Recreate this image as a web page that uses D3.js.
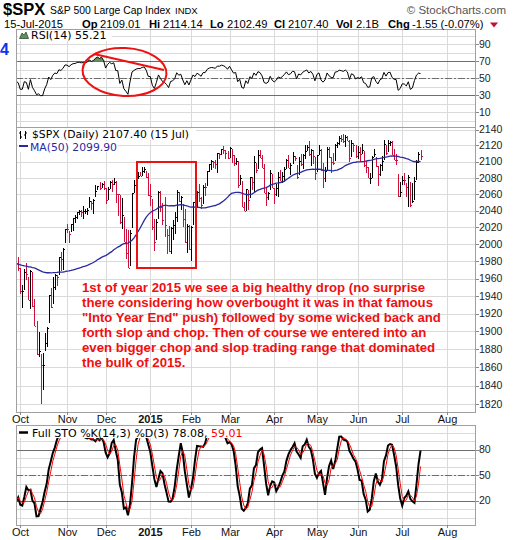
<!DOCTYPE html>
<html><head><meta charset="utf-8">
<script src="https://cdn.jsdelivr.net/npm/d3@7"></script>
<style>body{margin:0;background:#fff}svg{display:block}</style>
</head><body><svg id="c" width="520" height="540"></svg>
<script>
// ---- DATA (daily S&P 500, 1 Jul 2014 .. 15 Jul 2015; Jul-Sep 2014 is indicator warm-up) ----
const monthLabels = ["Jul","Aug","Sep","Oct","Nov","Dec","2015","Feb","Mar","Apr","May","Jun","Jul","Aug"];
const monthTradingDays = [22,21,21,23,19,22,20,19,22,21,20,22,22];
const firstVisible = 62; // 29 Sep 2014
const closes = [
1973.32,1974.62,1985.44,1977.65,1963.71,1972.83,1964.68,1967.57,1977.10,1973.28,1981.57,1958.12,1978.22,1973.63,1983.53,1987.01,1987.98,1978.34,1978.91,1969.95,1970.07,1930.67,
1925.15,1938.99,1920.21,1920.24,1909.57,1931.59,1936.92,1933.75,1946.72,1955.18,1955.06,1971.74,1981.60,1986.51,1992.37,1988.40,1997.92,2000.02,2000.12,1996.74,2003.37,
2002.28,2000.72,1997.65,2007.71,2001.54,1988.44,1995.69,1997.45,1985.54,1984.13,1998.98,2001.57,2011.36,2010.40,1994.29,1982.77,1998.30,1965.99,1982.85,1977.80,1972.29,
1946.16,1946.17,1967.90,1964.82,1935.10,1968.89,1928.21,1906.13,1874.74,1877.70,1862.49,1862.76,1886.76,1904.01,1941.28,1927.11,1950.82,1964.58,1961.63,1985.05,1982.30,1994.65,2018.05,
2017.81,2012.10,2023.57,2031.21,2031.92,2038.26,2039.68,2038.25,2039.33,2039.82,2041.32,2051.80,2048.72,2052.75,2063.50,2069.41,2067.03,2072.83,2067.56,
2053.44,2066.55,2074.33,2071.92,2075.37,2060.31,2059.82,2026.14,2035.33,2002.33,1989.63,1972.74,2012.89,2061.23,2070.65,2078.54,2082.17,2081.88,2088.77,2090.57,2080.35,2058.90,
2058.20,2020.58,2002.61,2025.90,2062.14,2044.81,2028.26,2023.03,2011.27,1992.67,2019.42,2022.55,2032.12,2063.15,2051.82,2057.09,2029.55,2002.16,2021.25,1994.99,
2020.85,2050.03,2041.51,2062.52,2055.47,2046.74,2068.59,2068.53,2088.48,2096.99,2100.34,2099.68,2097.45,2110.30,2109.66,2115.48,2113.86,2110.74,2104.50,
2117.39,2107.78,2098.53,2101.04,2071.26,2079.43,2044.16,2040.24,2065.95,2053.40,2081.19,2074.28,2099.50,2089.27,2108.10,2104.42,2091.50,2061.05,2056.15,2061.02,2086.24,2067.89,
2059.69,2066.96,2080.62,2076.33,2081.90,2091.18,2102.06,2092.43,2095.84,2106.63,2104.99,2081.18,2100.40,2097.29,2107.96,2112.93,2117.69,2108.92,2114.76,2106.85,2085.51,
2108.29,2114.49,2089.46,2080.15,2088.00,2116.10,2105.33,2099.12,2098.48,2121.10,2122.73,2129.20,2127.83,2125.85,2130.82,2126.06,2104.20,2123.48,2120.79,2107.39,
2111.73,2109.60,2114.07,2095.84,2092.83,2079.28,2080.15,2105.20,2108.86,2094.11,2084.43,2096.29,2100.44,2121.24,2109.99,2122.85,2124.20,2108.58,2102.31,2101.49,2057.64,2063.11,
2077.42,2076.78,2068.76,2081.34,2046.68,2051.31,2076.62,2099.60,2108.95,2107.40];
const highs = [
1978.58,1976.67,1985.59,1982.90,1976.39,1974.15,1969.84,1968.67,1979.85,1982.52,1983.94,1979.91,1979.91,1976.93,1986.24,1989.23,1991.39,1984.60,1981.52,1984.85,1980.20,1965.14,
1937.35,1942.92,1936.34,1927.91,1928.89,1932.38,1944.90,1939.65,1948.41,1955.23,1964.04,1971.99,1982.57,1988.57,1994.76,1993.54,2001.95,2005.04,2002.14,1998.55,2003.38,
2006.12,2009.28,2011.17,2007.71,2007.17,2001.01,1996.66,1997.65,1996.66,1987.18,2002.33,2010.74,2012.34,2019.26,2009.08,1995.41,1999.79,1997.32,1986.37,1978.60,1985.17,
1971.99,1952.32,1971.19,1977.84,1962.36,1970.36,1967.68,1936.98,1912.09,1898.71,1874.18,1876.01,1898.11,1905.03,1941.28,1949.31,1961.95,1965.27,1964.64,1985.17,1991.40,1995.23,2018.19,
2024.46,2015.98,2023.77,2031.61,2034.26,2038.70,2041.28,2040.33,2046.18,2041.88,2043.07,2056.08,2052.14,2054.27,2071.46,2070.17,2074.21,2073.40,2075.76,
2067.56,2068.22,2076.28,2077.34,2079.47,2076.24,2060.60,2058.90,2055.53,2032.13,2018.69,2016.89,2016.75,2061.23,2077.85,2078.76,2086.73,2087.62,2092.70,2093.55,2088.49,2085.58,
2072.36,2054.44,2030.25,2029.61,2064.08,2064.43,2049.30,2056.93,2018.40,2021.35,2020.46,2028.94,2038.29,2064.62,2062.98,2057.62,2047.86,2042.49,2024.64,2023.32,
2021.66,2050.30,2054.74,2063.55,2072.40,2056.16,2070.86,2073.48,2088.53,2097.03,2101.30,2100.23,2102.13,2110.61,2110.05,2115.76,2119.59,2113.91,2112.74,
2117.52,2115.76,2107.72,2104.25,2100.91,2083.49,2076.19,2050.08,2066.41,2064.56,2081.41,2080.59,2106.85,2098.69,2113.92,2114.86,2107.63,2097.43,2067.15,2062.83,2088.97,2084.05,
2067.89,2072.17,2086.99,2089.81,2086.69,2093.31,2102.61,2107.65,2098.62,2111.91,2107.04,2095.11,2105.59,2109.64,2109.48,2120.49,2120.92,2125.92,2116.04,2113.80,2105.13,
2108.41,2120.95,2115.24,2098.22,2092.90,2117.66,2117.69,2105.06,2110.19,2121.45,2123.89,2131.78,2133.02,2134.72,2133.15,2132.25,2126.22,2126.81,2122.52,2120.66,
2119.15,2117.59,2121.92,2112.89,2100.99,2093.01,2085.67,2107.03,2115.02,2105.64,2094.10,2097.40,2106.79,2126.65,2121.01,2126.59,2125.55,2125.10,2116.03,2108.92,2084.72,2074.28,
2082.78,2085.42,2074.02,2083.74,2074.24,2074.16,2081.31,2101.48,2111.99,2114.14];
const lows = [
1962.29,1972.58,1975.88,1975.67,1959.46,1965.08,1952.86,1959.63,1969.95,1965.34,1975.67,1955.59,1960.82,1965.77,1975.65,1982.44,1985.79,1974.37,1967.31,1969.95,1965.03,1930.67,
1916.37,1921.20,1913.77,1911.45,1904.78,1909.01,1933.43,1928.29,1935.60,1947.41,1941.50,1957.10,1972.72,1974.19,1986.33,1984.76,1991.74,1998.59,1996.20,1990.52,1994.65,
1994.85,1998.14,1992.54,1990.10,1995.60,1984.61,1982.99,1985.93,1980.26,1978.48,1979.07,1993.29,2003.39,2006.59,1991.01,1982.77,1978.63,1965.99,1968.04,1964.14,1968.96,
1941.72,1926.03,1947.28,1958.43,1935.10,1925.25,1927.56,1906.05,1874.14,1871.79,1820.66,1835.02,1877.84,1882.30,1909.38,1926.83,1931.19,1946.27,1951.37,1964.14,1969.04,1970.32,2001.85,
2013.68,2001.01,2014.42,2015.86,2025.07,2030.17,2035.28,2031.95,2030.44,2035.72,2034.46,2043.08,2040.37,2035.69,2056.75,2065.06,2064.75,2066.94,2065.06,
2047.56,2053.44,2066.65,2062.34,2070.81,2049.57,2034.17,2024.26,2018.07,2002.33,1982.26,1972.56,1974.13,2018.93,2061.03,2069.99,2078.46,2081.86,2082.30,2085.75,2079.53,2057.94,
2046.04,2017.34,1992.44,2005.55,2030.61,2038.33,2022.58,2008.25,1988.44,1991.47,1988.12,2004.49,2012.04,2026.38,2050.54,2040.97,2019.91,2001.49,1989.18,1993.38,
1980.90,2022.71,2036.72,2043.45,2049.97,2041.88,2048.62,2057.99,2069.98,2086.70,2089.80,2092.15,2090.79,2085.44,2103.00,2107.63,2109.89,2103.76,2103.75,
2104.50,2098.26,2094.49,2095.22,2067.27,2071.28,2044.16,2039.69,2040.24,2041.17,2055.20,2065.08,2061.23,2085.56,2090.32,2104.42,2091.50,2061.05,2045.50,2052.96,2064.98,2067.04,
2048.38,2057.32,2056.52,2076.10,2073.30,2074.29,2091.05,2092.33,2083.24,2097.03,2100.30,2078.52,2083.98,2094.38,2091.05,2103.19,2112.69,2107.04,2094.89,2097.41,2077.59,
2087.62,2108.29,2088.46,2067.93,2074.99,2088.24,2104.58,2085.57,2096.04,2100.43,2116.81,2120.01,2124.50,2122.59,2117.66,2126.06,2099.18,2105.13,2112.18,2104.89,
2102.54,2099.14,2109.61,2093.23,2085.67,2079.11,2072.14,2079.73,2106.13,2093.11,2070.29,2082.10,2088.86,2101.43,2108.58,2111.85,2119.22,2108.58,2101.78,2095.38,2056.32,2056.32,
2071.46,2071.09,2056.32,2044.02,2044.49,2049.34,2052.66,2077.78,2098.18,2102.49];
const priceTicks = [1820,1840,1860,1880,1900,1920,1940,1960,1980,2000,2020,2040,2060,2080,2100,2120,2140];
const rsiTicks = [90,70,50,30,10];
const stoTicks = [80,50,20];
const headerItems = [["15-Jul-2015",false],["Op",true],["2109.01",false],["Hi",true],["2114.14",false],["Lo",true],["2102.49",false],
  ["Cl",true],["2107.40",false],["Vol",true],["2.1B",false],["Chg",true],["-1.55 (-0.07%)",false]];
const noteLines = [
"1st of year 2015 we see a big healthy drop (no surprise",
"there considering how overbought it was in that famous",
"\"Into Year End\" push) followed by some wicked back and",
"forth slop and chop. Then of course we entered into an",
"even bigger chop and slop trading range that dominated",
"the bulk of 2015."];

// ---- INDICATORS ----
const N = closes.length;
const ma50 = closes.map((c,i)=> i<49 ? null : d3.mean(closes.slice(i-49,i+1)));
function rsiCalc(c,n){const out=new Array(c.length).fill(null);let g=0,l=0;
  for(let i=1;i<=n;i++){const d=c[i]-c[i-1]; if(d>0)g+=d; else l-=d;} g/=n;l/=n; out[n]=100-100/(1+g/l);
  for(let i=n+1;i<c.length;i++){const d=c[i]-c[i-1]; g=(g*(n-1)+Math.max(d,0))/n; l=(l*(n-1)+Math.max(-d,0))/n; out[i]=100-100/(1+g/l);} return out;}
const rsi = rsiCalc(closes,14);
const fastK = closes.map((c,i)=>{ if(i<13) return null; const hh=d3.max(highs.slice(i-13,i+1)), ll=d3.min(lows.slice(i-13,i+1)); return 100*(c-ll)/(hh-ll);});
const sma=(a,n)=>a.map((v,i)=>{ if(i<n-1) return null; const s=a.slice(i-n+1,i+1); return s.some(x=>x==null)?null:d3.mean(s);});
const fullK = sma(fastK,3), fullD = sma(fullK,3);

// month start indices
let monthStarts = []; let acc=0;
monthLabels.forEach((m,k)=>{ monthStarts.push({label:m, i:acc}); acc += (monthTradingDays[k]||0); });
monthStarts = monthStarts.filter(m=> m.i >= firstVisible);

// ---- LAYOUT ----
const L=16, R=476;
const P = {rsi:{t:29,b:127}, price:{t:127,b:412}, sto:{t:425,b:525}};
const svg = d3.select("#c");
const FA = "'Liberation Sans', Arial, sans-serif", FV = "'DejaVu Sans', Verdana, sans-serif";
const RED = "#d0103a";
const xs = d3.scaleLinear().domain([firstVisible, firstVisible+226.3]).range([16.2, 476]);
const yR = d3.scaleLinear().domain([50-49/0.85, 50+49/0.85]).range([P.rsi.b, P.rsi.t]);
const yS = d3.scaleLinear().domain([50-50/0.85, 50+50/0.85]).range([P.sto.b, P.sto.t]);
const yP = d3.scaleLog().domain([1811.7, 2143.2]).range([P.price.b, P.price.t]);
const vis = d3.range(firstVisible, N);
const xi = i => Math.round(xs(i));

const defs = svg.append("defs");
Object.entries(P).forEach(([k,p])=> defs.append("clipPath").attr("id","clip-"+k).append("rect").attr("x",L).attr("y",p.t).attr("width",R-L).attr("height",p.b-p.t));

function grid(p, yScale, ticks){
  const g = svg.append("g").attr("shape-rendering","crispEdges");
  ticks.forEach(v=>{ const y=Math.round(yScale(v))+0.5; if(y<p.t||y>p.b) return;
    g.append("line").attr("x1",L).attr("x2",R).attr("y1",y).attr("y2",y).attr("stroke","#dadada"); });
  monthStarts.forEach(m=>{ const x=xi(m.i)+0.5; if(x<L||x>R) return;
    g.append("line").attr("x1",x).attr("x2",x).attr("y1",p.t).attr("y2",p.b).attr("stroke","#dadada"); });
}
grid(P.rsi, yR, d3.range(0,110,10));
grid(P.price, yP, priceTicks);
grid(P.sto, yS, d3.range(0,110,10));

function refLines(p, yScale, solid, dashed){
  const g = svg.append("g").attr("shape-rendering","crispEdges");
  solid.forEach(v=>{ const y=Math.round(yScale(v))+0.5; g.append("line").attr("x1",L).attr("x2",R).attr("y1",y).attr("y2",y).attr("stroke","#6e6e6e"); });
  const y=Math.round(yScale(dashed))+0.5;
  g.append("line").attr("x1",L).attr("x2",R).attr("y1",y).attr("y2",y).attr("stroke","#6e6e6e").attr("stroke-dasharray","7,2,2,2");
}
refLines(P.rsi, yR, [70,30], 50);
refLines(P.sto, yS, [80,20], 50);

// ---- RSI ----
const gR = svg.append("g").attr("clip-path","url(#clip-rsi)");
gR.append("path").datum(vis).attr("fill","#5f8f5f").attr("stroke","none")
  .attr("d", d3.area().x(i=>xs(i)).y0(yR(70)).y1(i=>yR(Math.max(rsi[i],70))));
gR.append("path").datum(vis).attr("fill","none").attr("stroke","#000").attr("stroke-width",1)
  .attr("d", d3.line().x(i=>xs(i)).y(i=>yR(rsi[i])));

// ---- PRICE BARS ----
const gP = svg.append("g").attr("clip-path","url(#clip-price)");
const gB = gP.append("g").attr("shape-rendering","crispEdges");
vis.forEach(i=>{
  const col = closes[i] < closes[i-1] ? RED : "#000";
  const x = xi(i), yh = Math.round(yP(highs[i])), yl = Math.round(yP(lows[i])), yc = Math.round(yP(closes[i]));
  gB.append("rect").attr("x",x).attr("y",yh).attr("width",1).attr("height",Math.max(1,yl-yh)).attr("fill",col);
  gB.append("rect").attr("x",x+1).attr("y",yc).attr("width",1).attr("height",1).attr("fill",col);
});
gP.append("path").datum(vis).attr("fill","none").attr("stroke","#2a2aa0").attr("stroke-width",1.3)
  .attr("d", d3.line().x(i=>xs(i)).y(i=>yP(ma50[i])));

// ---- STO ----
const gS = svg.append("g").attr("clip-path","url(#clip-sto)");
gS.append("path").datum(vis).attr("fill","none").attr("stroke","#000").attr("stroke-width",2)
  .attr("d", d3.line().x(i=>xs(i)).y(i=>yS(fullK[i])));
gS.append("path").datum(vis).attr("fill","none").attr("stroke","#ff0000").attr("stroke-width",1)
  .attr("d", d3.line().x(i=>xs(i)).y(i=>yS(fullD[i])));

// ---- borders & axes ----
const gA = svg.append("g").attr("shape-rendering","crispEdges");
Object.values(P).forEach(p=> gA.append("rect").attr("x",L+0.5).attr("y",p.t+0.5).attr("width",R-L-1).attr("height",p.b-p.t).attr("fill","none").attr("stroke","#a0a0a0"));
function rightLabels(yScale, ticks){
  ticks.forEach(v=>{ const y=yScale(v);
    gA.append("line").attr("x1",R).attr("x2",R+3).attr("y1",Math.round(y)+0.5).attr("y2",Math.round(y)+0.5).attr("stroke","#888");
    svg.append("text").attr("x",R+3).attr("y",y).attr("dy","0.36em").attr("font-family",FA).attr("font-size",10.5).attr("fill","#222").text(v);
  });
}
rightLabels(yR, rsiTicks); rightLabels(yP, priceTicks); rightLabels(yS, stoTicks);
function bottomLabels(p, base){
  monthStarts.forEach(m=>{ const x=xi(m.i)+0.5; if(x<L||x>R) return;
    gA.append("line").attr("x1",x).attr("x2",x).attr("y1",p.b).attr("y2",p.b+3).attr("stroke","#888");
    svg.append("text").attr("x",x).attr("y",base).attr("text-anchor","middle").attr("font-family",FA).attr("font-size",11)
      .attr("font-weight", m.label==="2015"?"bold":"normal").attr("fill","#111").text(m.label);
  });
}
bottomLabels(P.price, 422.5); bottomLabels(P.sto, 536);

// ---- legends ----
function legendBg(x,y,w,h){ svg.append("rect").attr("x",x).attr("y",y).attr("width",w).attr("height",h).attr("fill","#fff"); }
legendBg(18,30,94,11);
svg.append("path").attr("d","M19.5,38.5 L22,33 L24,35 L26,32 L28.5,38.5 Z").attr("fill","#5f8f5f").attr("stroke","#2f4f2f").attr("stroke-width",0.8);
svg.append("text").attr("x",31).attr("y",38.5).attr("font-family",FV).attr("font-size",11).text("RSI(14) 55.21");

legendBg(18,128,178,12);
svg.append("path").attr("d","M20.5,131v8M19,133h1.5M20.5,137h1.5M25.5,131v8M24,135h1.5M25.5,133h1.5").attr("stroke","#000").attr("fill","none").attr("stroke-width",1);
svg.append("text").attr("x",32).attr("y",137.5).attr("font-family",FV).attr("font-size",10.8).text("$SPX (Daily) 2107.40 (15 Jul)");
legendBg(18,141,100,11);
svg.append("line").attr("x1",19).attr("x2",28).attr("y1",146).attr("y2",146).attr("stroke","#2a2aa0").attr("stroke-width",2);
svg.append("text").attr("x",30).attr("y",150.8).attr("font-family",FV).attr("font-size",10.8).attr("fill","#2a2aa0").text("MA(50) 2099.90");

legendBg(18,426,216,12);
svg.append("line").attr("x1",19).attr("x2",28).attr("y1",432.5).attr("y2",432.5).attr("stroke","#000").attr("stroke-width",2.5);
const st = svg.append("text").attr("x",32).attr("y",436.5).attr("font-family",FV).attr("font-size",11);
st.append("tspan").text("Full STO %K(14,3) %D(3) 78.08, ");
st.append("tspan").attr("fill","#ff0000").text("59.01");

// ---- header ----
const h = svg.append("g").attr("font-family",FA);
h.append("text").attr("x",3).attr("y",14.5).attr("font-size",16.5).attr("font-weight","bold").text("$SPX");
h.append("text").attr("x",50).attr("y",14).attr("font-size",10.4).text("S&P 500 Large Cap Index");
h.append("text").attr("x",175).attr("y",14).attr("font-size",9.5).text("INDX");
h.append("text").attr("x",506).attr("y",14).attr("text-anchor","end").attr("font-size",11.5).attr("fill","#555").text("\u00A9 StockCharts.com");
const headerX = [4,82,100,149,163,210,227,274,288,336,356,388,412];
headerItems.forEach(([t,b],k)=> h.append("text").attr("x",headerX[k]).attr("y",28).attr("font-size",11.2).attr("font-weight",b?"bold":"normal").text(t));
svg.append("path").attr("d","M490,22.5 h8 l-4,5 z").attr("fill","#c0103a");

// ---- annotations ----
svg.append("text").attr("x",0).attr("y",55).attr("font-family",FA).attr("font-weight","bold").attr("font-size",16).attr("fill","#1133ee").text("4");
svg.append("ellipse").attr("cx",124.5).attr("cy",72).attr("rx",42).attr("ry",24).attr("transform","rotate(3,124.5,72)")
  .attr("fill","none").attr("stroke","#ee1111").attr("stroke-width",2);
svg.append("line").attr("x1",94).attr("y1",54).attr("x2",164).attr("y2",70).attr("stroke","#ee1111").attr("stroke-width",2);
svg.append("rect").attr("x",137).attr("y",162).attr("width",59).attr("height",106).attr("fill","none").attr("stroke","#ee1111").attr("stroke-width",2);
const nt = svg.append("text").attr("font-family",FA).attr("font-weight","bold").attr("font-size",13.2).attr("fill","#f01010");
noteLines.forEach((t,k)=> nt.append("tspan").attr("x",82).attr("y",291.5+15*k).text(t));
</script></body></html>
